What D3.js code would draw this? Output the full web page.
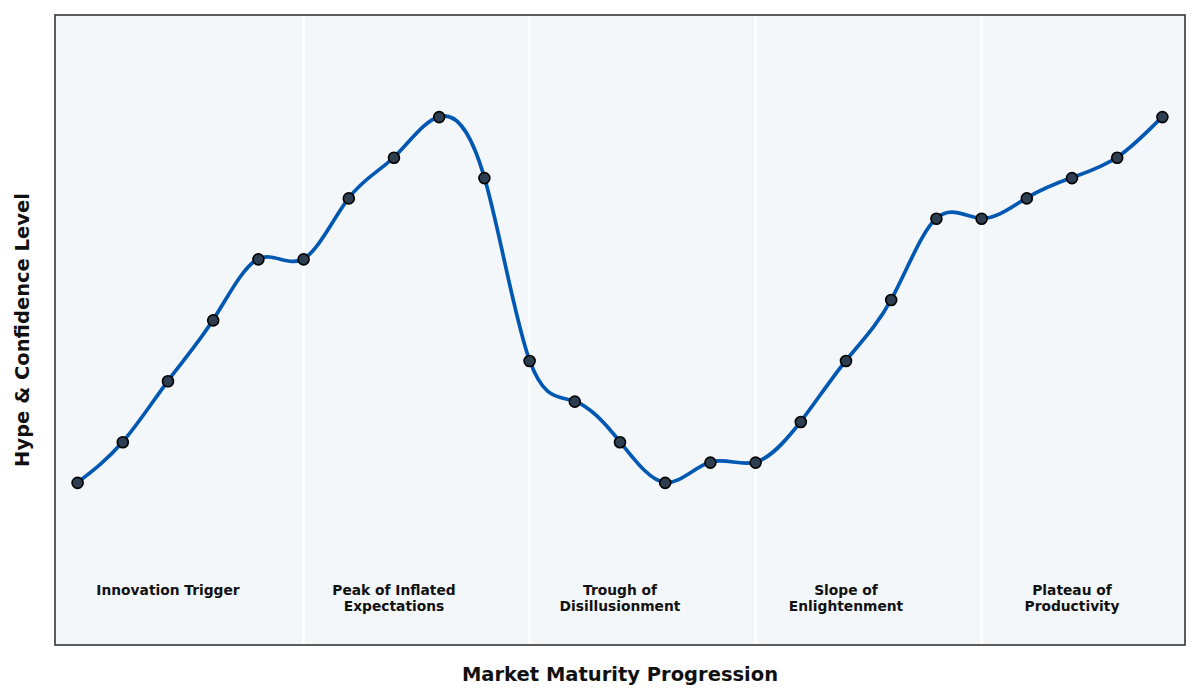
<!DOCTYPE html>
<html>
<head>
<meta charset="utf-8">
<script src="https://cdn.jsdelivr.net/npm/d3@7"></script>
<style>
  body { margin: 0; background: #fff; }
  text { font-family: "DejaVu Sans", sans-serif; }
</style>
</head>
<body>
<svg id="chart" width="1200" height="700"></svg>
<script>
// hype values per step along the maturity axis
const hype = [20, 30, 45, 60, 75, 75, 90, 100, 110, 95,
              50, 40, 30, 20, 25, 25, 35, 50, 65, 85,
              85, 90, 95, 100, 110];
const stageNames = [
  ["Innovation Trigger"],
  ["Peak of Inflated", "Expectations"],
  ["Trough of", "Disillusionment"],
  ["Slope of", "Enlightenment"],
  ["Plateau of", "Productivity"]
];
const stageCenters = [2, 7, 12, 17, 22];
const stageBounds = [5, 10, 15, 20];

const margin = { top: 15, right: 15, bottom: 55, left: 55 };
const width = 1200, height = 700;

const svg = d3.select("#chart");

const x = d3.scaleLinear()
  .domain([-0.5, hype.length - 0.5])
  .range([margin.left, width - margin.right]);
const y = d3.scaleLinear()
  .domain([-20, 135])
  .range([height - margin.bottom, margin.top]);

svg.append("rect")
  .attr("x", margin.left)
  .attr("y", margin.top)
  .attr("width", width - margin.left - margin.right)
  .attr("height", height - margin.top - margin.bottom)
  .attr("fill", "#f4f7fa");

// white dividers between stages
svg.selectAll("line.sep")
  .data(stageBounds)
  .enter()
  .append("line")
  .attr("class", "sep")
  .attr("x1", d => x(d)).attr("x2", d => x(d))
  .attr("y1", margin.top).attr("y2", height - margin.bottom)
  .attr("stroke", "#ffffff")
  .attr("stroke-width", 2.5);

const line = d3.line()
  .x((d, i) => x(i))
  .y(d => y(d))
  .curve(d3.curveNatural);

svg.append("path")
  .datum(hype)
  .attr("d", line)
  .attr("fill", "none")
  .attr("stroke", "#0058b3")
  .attr("stroke-width", 3.7);

svg.selectAll("circle.pt")
  .data(hype)
  .enter()
  .append("circle")
  .attr("class", "pt")
  .attr("cx", (d, i) => x(i))
  .attr("cy", d => y(d) + 0.5)
  .attr("r", 5.5)
  .attr("fill", "#2c3e50")
  .attr("stroke", "#000")
  .attr("stroke-width", 1.6);

// stage labels
const labels = svg.selectAll("text.stage")
  .data(stageNames)
  .enter()
  .append("text")
  .attr("class", "stage")
  .attr("text-anchor", "middle")
  .attr("font-size", 13.8)
  .attr("font-weight", "bold")
  .attr("fill", "#111");

labels.selectAll("tspan")
  .data((d, i) => d.map(t => ({ t, i })))
  .enter()
  .append("tspan")
  .attr("x", d => x(stageCenters[d.i]))
  .attr("y", (d, j) => y(-5) + 10.5 + j * 16)
  .text(d => d.t);

svg.append("rect")
  .attr("x", margin.left)
  .attr("y", margin.top)
  .attr("width", width - margin.left - margin.right)
  .attr("height", height - margin.top - margin.bottom)
  .attr("fill", "none")
  .attr("stroke", "#333")
  .attr("stroke-width", 1.6);

svg.append("text")
  .attr("x", (margin.left + width - margin.right) / 2)
  .attr("y", 681)
  .attr("text-anchor", "middle")
  .attr("font-size", 19.5)
  .attr("font-weight", "bold")
  .attr("fill", "#111")
  .text("Market Maturity Progression");

svg.append("text")
  .attr("transform", `translate(29, ${(margin.top + height - margin.bottom) / 2}) rotate(-90)`)
  .attr("text-anchor", "middle")
  .attr("font-size", 19.5)
  .attr("font-weight", "bold")
  .attr("fill", "#111")
  .text("Hype & Confidence Level");
</script>
</body>
</html>
